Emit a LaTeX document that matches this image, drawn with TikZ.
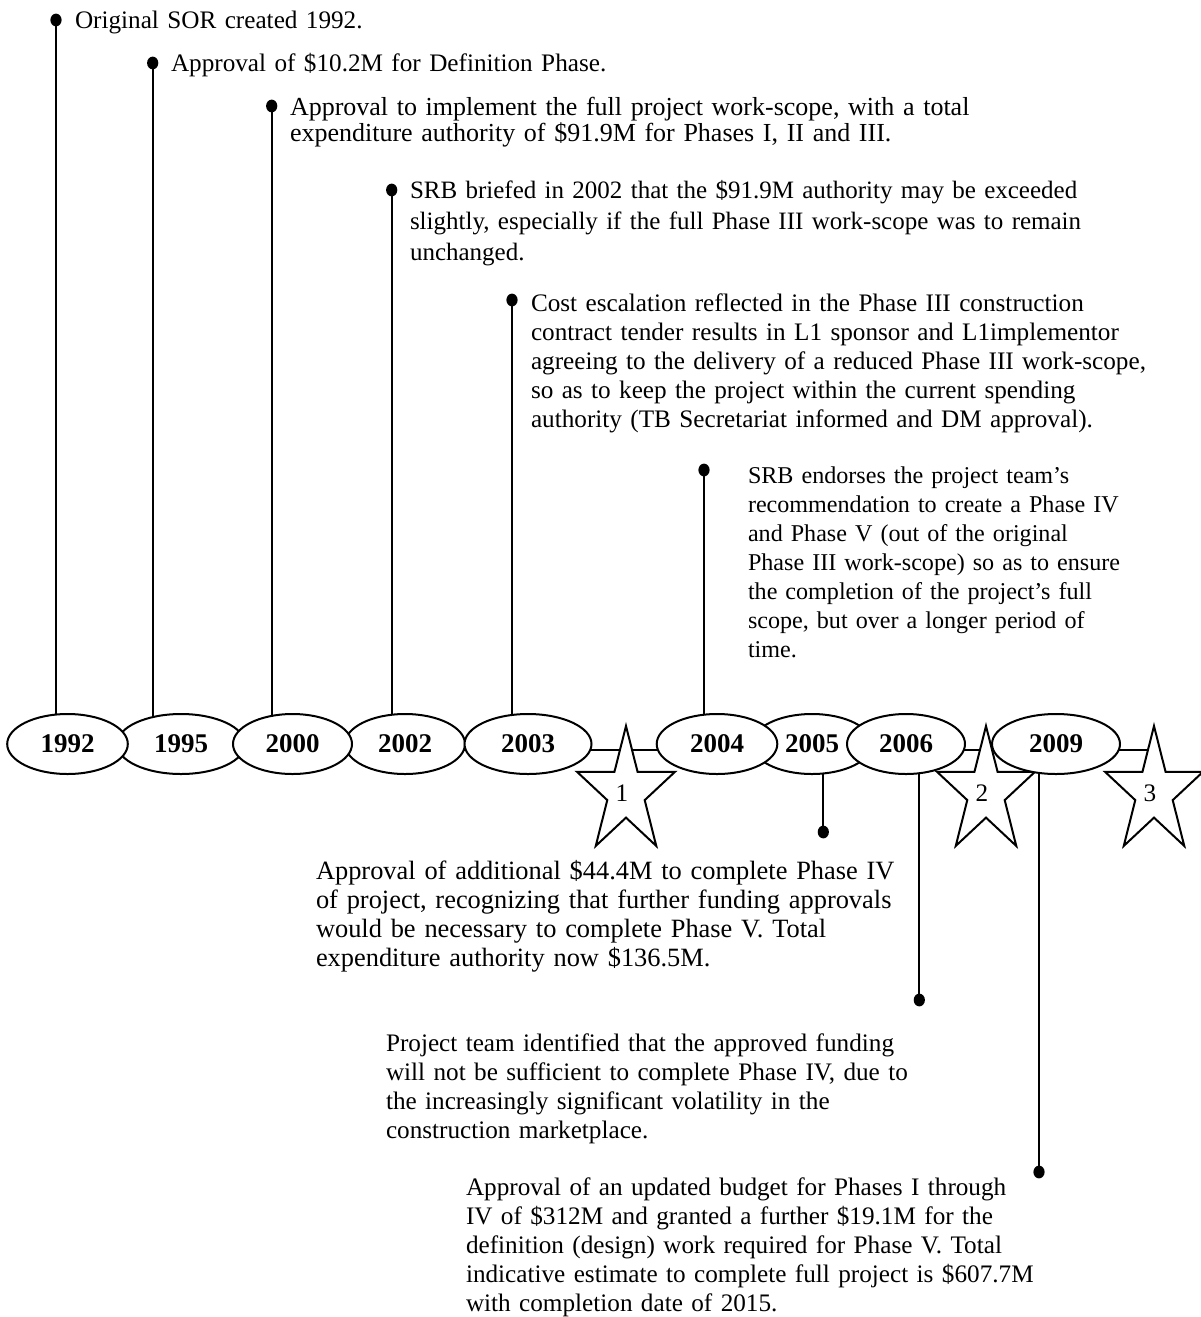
\documentclass[tikz,border=0pt]{standalone}
\usepackage{fontspec}
\setmainfont{Liberation Serif}
\usetikzlibrary{shapes.geometric,backgrounds}
\hyphenpenalty=10000
\exhyphenpenalty=10000
\begin{document}
\begin{tikzpicture}[x=0.5pt,y=-0.5pt,
  every node/.style={inner sep=0pt,outer sep=0pt},
  yr/.style={ellipse,draw,line width=1pt,fill=white,minimum height=30pt,
    font=\fontsize{13.5}{15}\selectfont\bfseries},
  dot/.style={ellipse,fill=black,minimum width=5.6pt,minimum height=6.4pt},
  txt/.style={anchor=base west,text width=520pt,align=left,
    font=\fontsize{12.6}{14.5}\selectfont},
  conn/.style={line width=1pt},
  starline/.style={draw,line width=1pt,fill=white,line join=miter},
  starlbl/.style={font=\fontsize{12.6}{14.5}\selectfont}]
\useasboundingbox (0,0) rectangle (1200,1317);

% stars
\foreach \cx in {626,986,1154}{
  \begin{scope}[shift={(\cx,792.3)},xscale=51.5,yscale=-66.3]
    \path[starline] (90:1) -- (126:0.382) -- (162:1) -- (198:0.382) -- (234:1)
      -- (270:0.382) -- (306:1) -- (342:0.382) -- (18:1) -- (54:0.382) -- cycle;
  \end{scope}
}
\node[starlbl] (s1) at (622,793) {1};
\node[starlbl] (s2) at (982,793) {2};
\node[starlbl] (s3) at (1150,793) {3};

% year ellipses (lower ones first)
\node[yr,minimum width=64pt] (y1995) at (181,744) {1995\hspace{10pt}};
\node[yr,minimum width=60pt] (y2002) at (405,744) {2002};
\node[yr,minimum width=60pt] (y2005) at (812,744) {2005};
\node[yr,minimum width=60.3pt] (y1992) at (67.5,744) {1992};
\node[yr,minimum width=59.5pt] (y2000) at (292.5,744) {2000\hspace{10pt}};
\node[yr,minimum width=63.5pt] (y2003) at (528,744) {2003\hspace{5pt}};
\node[yr,minimum width=60.3pt] (y2004) at (717,744) {2004\hspace{3pt}};
\node[yr,minimum width=59pt] (y2006) at (906,744) {2006};
\node[yr,minimum width=64pt] (y2009) at (1056,744) {2009};

% dots
\node[dot] (d1992) at (56,20) {};
\node[dot] (d1995) at (152.7,63) {};
\node[dot] (d2000) at (271.7,106) {};
\node[dot] (d2002) at (391.7,190) {};
\node[dot] (d2003) at (512,300) {};
\node[dot] (d2004) at (704,470) {};
\node[dot] (d2005) at (823.3,832) {};
\node[dot] (d2006) at (919.3,1000) {};
\node[dot] (d2009) at (1039,1172) {};

% texts
\node[txt] (t1992) at (75,28) {Original SOR created 1992.};
\node[txt] (t1995) at (171,71) {Approval of \$10.2M for Definition Phase.};
\node[txt,font=\fontsize{13}{13}\selectfont] (t2000) at (290,115) {Approval to implement the full project work-scope, with a total\\
expenditure authority of \$91.9M for Phases I, II and III.};
\node[txt,font=\fontsize{12.5}{15.5}\selectfont] (t2002) at (410,198) {SRB briefed in 2002 that the \$91.9M authority may be exceeded\\
slightly, especially if the full Phase III work-scope was to remain\\
unchanged.};
\node[txt] (t2003) at (531,311) {Cost escalation reflected in the Phase III construction\\
contract tender results in L1 sponsor and L1implementor\\
agreeing to the delivery of a reduced Phase III work-scope,\\
so as to keep the project within the current spending\\
authority (TB Secretariat informed and DM approval).};
\node[txt,font=\fontsize{12.05}{14.5}\selectfont] (t2004) at (748,483) {SRB endorses the project team’s\\
recommendation to create a Phase IV\\
and Phase V (out of the original\\
Phase III work-scope) so as to ensure\\
the completion of the project’s full\\
scope, but over a longer period of\\
time.};
\node[txt,font=\fontsize{13.2}{14.5}\selectfont] (t2005) at (316,879) {Approval of additional \$44.4M to complete Phase IV\\
of project, recognizing that further funding approvals\\
would be necessary to complete Phase V. Total\\
expenditure authority now \$136.5M.};
\node[txt] (t2006) at (386,1051) {Project team identified that the approved funding\\
will not be sufficient to complete Phase IV, due to\\
the increasingly significant volatility in the\\
construction marketplace.};
\node[txt] (t2009) at (466,1195) {Approval of an updated budget for Phases I through\\
IV of \$312M and granted a further \$19.1M for the\\
definition (design) work required for Phase V. Total\\
indicative estimate to complete full project is \$607.7M\\
with completion date of 2015.};

% connectors
\begin{scope}[on background layer]
  \coordinate (hl) at (67.5,750);
  \coordinate (hr) at (1154,750);
  \draw[conn] (hl) -- (hr);
  \foreach \y in {1992,1995,2000,2002,2003,2004,2005,2006,2009}{
    \draw[conn] (d\y.center) -- (d\y.center |- y\y.center);
  }
\end{scope}
\end{tikzpicture}
\end{document}
